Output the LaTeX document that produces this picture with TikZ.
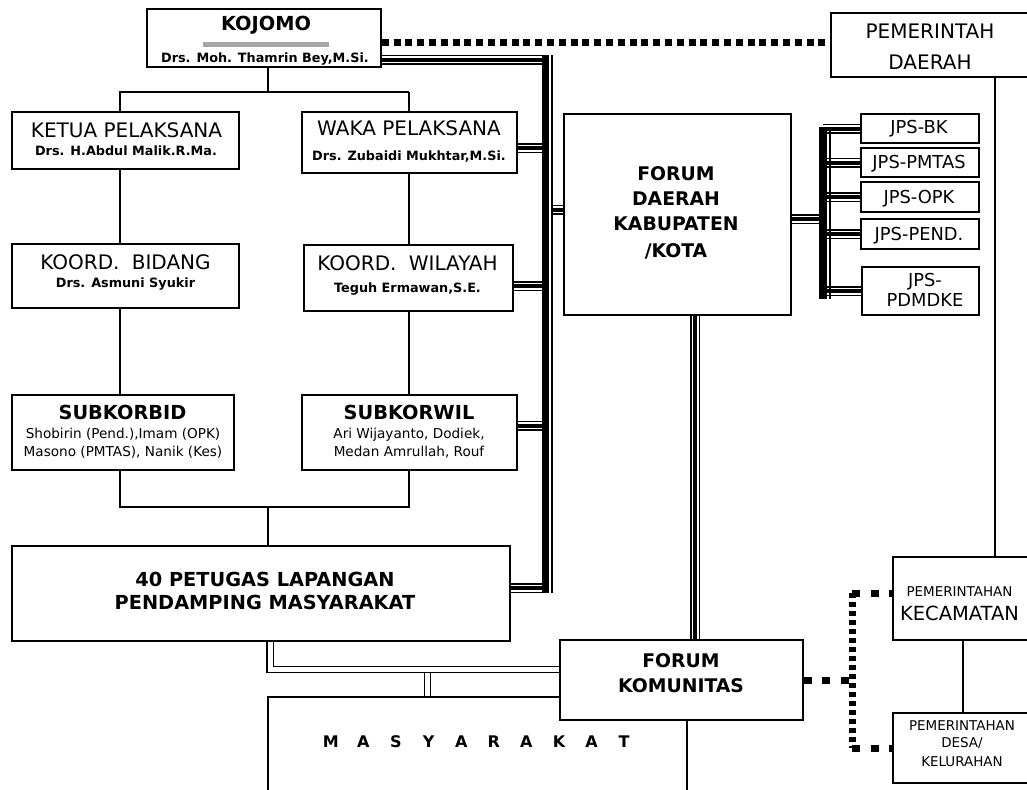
\documentclass[tikz,border=0pt]{standalone}
\usepackage{fontspec}
\setmainfont{DejaVu Sans}
\usetikzlibrary{calc}

\newcommand{\spreadbox}[1]{\makebox[24.45pt]{#1}}

\tikzset{
  box/.style={draw, line width=1.1pt, fill=white, rectangle, inner sep=0pt},
  bx/.style 2 args={box, minimum width=#1*0.75pt, minimum height=#2*0.75pt},
  lbl/.style={inner sep=0pt, text depth=0pt, anchor=center},
  conn/.style={line width=1.1pt},
  triline/.style={line width=7.5pt, draw=black,
    postaction={draw=white, line width=5.25pt},
    postaction={draw=black, line width=3pt}},
  dbl/.style={draw=black, line width=1.1pt, double=white, double distance=3.75pt},
  dotsTop/.style={line width=5.25pt, dash pattern=on 5.25pt off 3.6pt},
  dotsH/.style={line width=5.25pt, dash pattern=on 6pt off 8pt},
  dotsV/.style={line width=5.25pt, dash pattern=on 3.75pt off 3pt},
  tTitle/.style={lbl, text height=10.95pt, font=\fontsize{15}{18}\selectfont},
  tHead/.style={lbl, text height=10.6pt, font=\bfseries\fontsize{14.5}{17}\selectfont},
  tSub/.style={lbl, text height=7pt, font=\bfseries\fontsize{9.6}{12}\selectfont},
  tNames/.style={lbl, text height=7.45pt, font=\fontsize{10.2}{12}\selectfont},
  tJps/.style={lbl, text height=9.8pt, font=\fontsize{13.4}{16}\selectfont},
  tSmall/.style={lbl, text height=7.4pt, font=\fontsize{10.1}{12}\selectfont},
  tKec/.style={lbl, text height=10.66pt, font=\fontsize{14.6}{17}\selectfont},
  tBig/.style={lbl, text height=10.3pt, font=\bfseries\fontsize{14.1}{17}\selectfont},
  tSpread/.style={lbl, text height=8.76pt, font=\bfseries\fontsize{12}{14}\selectfont}
}

\begin{document}
\begin{tikzpicture}[x=0.75pt,y=-0.75pt]
\useasboundingbox (0,0) rectangle (1027,789);
\fill[white] (0,0) rectangle (1027,789);
\clip (0,0) rectangle (1027,789);

% guide columns and levels
\coordinate (cL) at (120,0);
\coordinate (cR) at (409,0);
\coordinate (cM) at (268,0);
\coordinate (lv1) at (0,92);
\coordinate (lv2) at (0,507);
\coordinate (busT) at (545.5,55);
\coordinate (busB) at (545.5,593);
\coordinate (busTt) at (552,55);
\coordinate (busBt) at (552,593);
\coordinate (jT) at (823,127);
\coordinate (jB) at (823,299);
\coordinate (jTt) at (830,127);
\coordinate (jBt) at (830,299);
\coordinate (fk) at (695,0);
\coordinate (dj) at (852,0);
\coordinate (kd) at (963,0);
\coordinate (pk) at (270,669.5);
\coordinate (pq) at (427.5,673);

% boxes
\node[bx={234}{58}] (kojomo) at (264,38) {};
\node[bx={204}{64}] (pemda) at (933,45) {};
\node[bx={227}{57}] (ketua) at (125.5,140.5) {};
\node[bx={215}{61}] (waka) at (409.5,142.5) {};
\node[bx={227}{64}] (bidang) at (125.5,276) {};
\node[bx={209}{66}] (wilayah) at (408.5,278) {};
\node[bx={222}{75}] (subkorbid) at (123,432.5) {};
\node[bx={215}{75}] (subkorwil) at (409.5,432.5) {};
\node[bx={498}{95}] (petugas) at (261,593.5) {};
\node[bx={227}{201}] (fdaerah) at (677.5,214.5) {};
\node[bx={118}{29}] (jpsbk) at (920,128.5) {};
\node[bx={118}{29}] (jpspmtas) at (920,162.5) {};
\node[bx={118}{30}] (jpsopk) at (920,197) {};
\node[bx={118}{30}] (jpspend) at (920,234) {};
\node[bx={117}{48}] (jpspdm) at (920.5,291) {};
\node[bx={204}{83}] (kec) at (995,598.5) {};
\node[bx={204}{70}] (desa) at (995,748) {};
\node[bx={419}{143}] (masy) at (477.5,768.5) {};
\node[bx={243}{80}] (komunitas) at (681.5,680) {};

% plain hierarchy lines
\draw[conn] (kojomo.south -| cM) -- (lv1 -| cM);
\draw[conn] (ketua.north -| cL) |- (lv1 -| cR);
\draw[conn, line width=2pt] (lv1 -| cR) -- (waka.north -| cR);
\draw[conn] (ketua.south -| cL) -- (bidang.north -| cL);
\draw[conn] (bidang.south -| cL) -- (subkorbid.north -| cL);
\draw[conn] (waka.south -| cR) -- (wilayah.north -| cR);
\draw[conn] (wilayah.south -| cR) -- (subkorwil.north -| cR);
\draw[conn] (subkorbid.south -| cL) |- (lv2 -| cR) -- (subkorwil.south -| cR);
\draw[conn] (lv2 -| cM) -- (petugas.north -| cM);
\draw[conn] (pemda.south -| kec.north) -- (kec.north);
\draw[conn] (kec.south -| kd) -- (desa.north -| kd);

% compound lines into the buses
\path (kojomo.east) ++(0,21.5) coordinate (k1);
\path (waka.east) ++(0,5.5) coordinate (k2);
\path (wilayah.east) ++(0,8) coordinate (k3);
\path (subkorwil.east) ++(0,-7) coordinate (k4);
\path (petugas.east) ++(0,-5.5) coordinate (k5);
\path (fdaerah.west) ++(0,-5) coordinate (k6);
\path (fdaerah.east) ++(0,4.5) coordinate (k7);
\draw[triline] (k1) -- (k1 -| busT);
\draw[triline] (k2) -- (k2 -| busT);
\draw[triline] (k3) -- (k3 -| busT);
\draw[triline] (k4) -- (k4 -| busT);
\draw[triline] (k5) -- (k5 -| busT);
\draw[triline] (k6 -| busTt) -- (k6);
\draw[triline] (k7) -- (k7 -| jT);
\draw[triline] (jpsbk.west -| jT) -- (jpsbk.west);
\draw[triline] (jpspmtas.west -| jT) -- (jpspmtas.west);
\draw[triline] (jpsopk.west -| jT) -- (jpsopk.west);
\draw[triline] (jpspend.west -| jT) -- (jpspend.west);
\draw[triline] (jpspdm.west -| jT) -- (jpspdm.west);
\draw[triline] (fdaerah.south -| fk) -- (komunitas.north -| fk);

% the two buses
\draw[line width=5.25pt] (busT) -- (busB);
\draw[conn] (busTt) -- (busBt);
\draw[line width=6pt] (jT) -- (jB);
\draw[conn] (jTt) -- (jBt);

% double lines to the community
\draw[dbl] (petugas.south -| pk) -- (pk) -- (pk -| komunitas.west);
\draw[dbl] (pq) -- (pq |- masy.north);

% dotted coordination lines
\path (pemda.west) ++(0,-3) coordinate (pw);
\draw[dotsTop] (pw -| kojomo.east) -- (pw);
\path (kec.west) ++(0,-5.5) coordinate (kw);
\draw[dotsH] (komunitas.east) -- (komunitas.east -| dj);
\draw[dotsV] (kw -| dj) -- (desa.west -| dj);
\draw[dotsH] (kw -| dj) -- (kw);
\draw[dotsH] (desa.west -| dj) -- (desa.west);

% labels
\node[tHead] (kojomo-t) at (266,23) {KOJOMO};
\draw[line width=3.75pt, gray!70] (203,44) -- (329,44);
\node[tSub] (kojomo-n) at (265,58) {Drs. Moh. Thamrin Bey,M.Si.};
\node[tTitle] (pemda-t1) at (930,31) {PEMERINTAH};
\node[tTitle] (pemda-t2) at (930,62) {DAERAH};
\node[tTitle] (ketua-t) at (126.5,130) {KETUA PELAKSANA};
\node[tSub] (ketua-n) at (126,151) {Drs. H.Abdul Malik.R.Ma.};
\node[tTitle] (waka-t) at (409,128) {WAKA PELAKSANA};
\node[tSub] (waka-n) at (409,156) {Drs. Zubaidi Mukhtar,M.Si.};
\node[tTitle] (bidang-t) at (125.5,262) {KOORD.\hspace{0.3em} BIDANG};
\node[tSub] (bidang-n) at (125.5,283) {Drs. Asmuni Syukir};
\node[tTitle] (wilayah-t) at (407.5,263) {KOORD.\hspace{0.3em} WILAYAH};
\node[tSub] (wilayah-n) at (407.5,288) {Teguh Ermawan,S.E.};
\node[tHead] (subkorbid-t) at (122.5,412) {SUBKORBID};
\node[tNames] (subkorbid-n1) at (123,434) {Shobirin (Pend.),Imam (OPK)};
\node[tNames] (subkorbid-n2) at (123,452) {Masono (PMTAS), Nanik (Kes)};
\node[tHead] (subkorwil-t) at (409,412) {SUBKORWIL};
\node[tNames] (subkorwil-n1) at (409,434) {Ari Wijayanto, Dodiek,};
\node[tNames] (subkorwil-n2) at (409,452) {Medan Amrullah, Rouf};
\node[tHead] (petugas-t1) at (265,579) {40 PETUGAS LAPANGAN};
\node[tHead] (petugas-t2) at (265,602) {PENDAMPING MASYARAKAT};
\node[tBig] (fdaerah-t1) at (676,174) {FORUM};
\node[tBig] (fdaerah-t2) at (676,199) {DAERAH};
\node[tBig] (fdaerah-t3) at (676,224) {KABUPATEN};
\node[tBig] (fdaerah-t4) at (676,251) {/KOTA};
\node[tJps] (jpsbk-t) at (919,127) {JPS-BK};
\node[tJps] (jpspmtas-t) at (919,162) {JPS-PMTAS};
\node[tJps] (jpsopk-t) at (919,197) {JPS-OPK};
\node[tJps] (jpspend-t) at (919,234) {JPS-PEND.};
\node[tJps] (jpspdm-t1) at (925,280) {JPS-};
\node[tJps] (jpspdm-t2) at (925,300) {PDMDKE};
\node[tSmall] (kec-t1) at (959.5,592) {PEMERINTAHAN};
\node[tKec] (kec-t2) at (959.5,613) {KECAMATAN};
\node[tSmall] (desa-t1) at (962,726) {PEMERINTAHAN};
\node[tSmall] (desa-t2) at (962,743) {DESA/};
\node[tSmall] (desa-t3) at (962,762) {KELURAHAN};
\node[tBig] (komunitas-t1) at (681,661) {FORUM};
\node[tBig] (komunitas-t2) at (681,686) {KOMUNITAS};
\node[tSpread] (masy-t) at (477.5,742) {\spreadbox{M}\spreadbox{A}\spreadbox{S}\spreadbox{Y}\spreadbox{A}\spreadbox{R}\spreadbox{A}\spreadbox{K}\spreadbox{A}\spreadbox{T}};
\end{tikzpicture}
\end{document}
